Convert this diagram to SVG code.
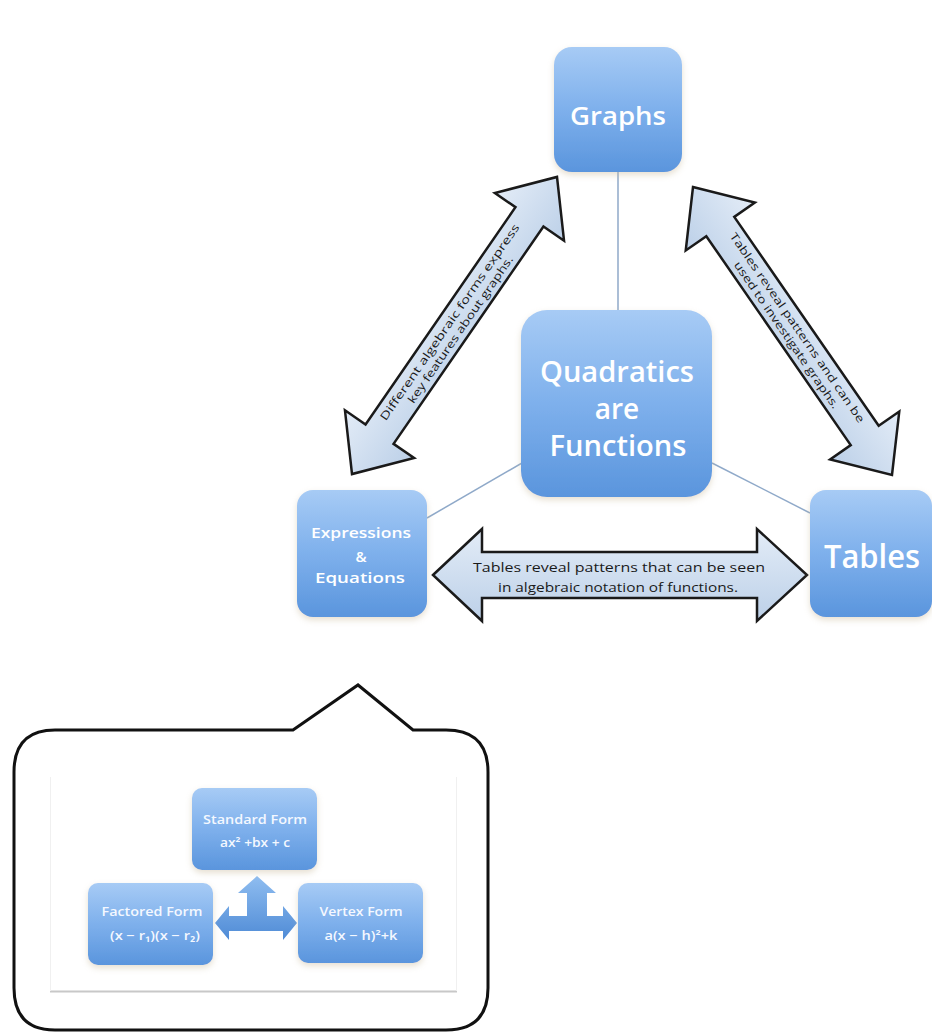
<svg xmlns="http://www.w3.org/2000/svg" width="932" height="1036" viewBox="0 0 932 1036">
<defs>
<linearGradient id="nodeGrad" x1="0" y1="0" x2="0" y2="1">
<stop offset="0" stop-color="#a7cbf5"/>
<stop offset="0.5" stop-color="#7eb0ec"/>
<stop offset="1" stop-color="#5a95dd"/>
</linearGradient>
<linearGradient id="arrowGrad" x1="0" y1="0" x2="0" y2="1">
<stop offset="0" stop-color="#e3ecf7"/>
<stop offset="1" stop-color="#bcd0e8"/>
</linearGradient>
<linearGradient id="smallArrowGrad" x1="0" y1="0" x2="0" y2="1">
<stop offset="0" stop-color="#8fbdf0"/>
<stop offset="1" stop-color="#4f8bd6"/>
</linearGradient>
<filter id="shadow" x="-20%" y="-20%" width="140%" height="140%">
<feDropShadow dx="0" dy="3" stdDeviation="3" flood-color="#c9b99a" flood-opacity="0.45"/>
</filter>
</defs>
<style>
.node{fill:url(#nodeGrad);filter:url(#shadow)}
.big{font-family:"Open Sans","Noto Sans","Liberation Sans",sans-serif;font-weight:600;fill:#ffffff;text-anchor:middle}
.mid{font-family:"Open Sans","Noto Sans","Liberation Sans",sans-serif;font-weight:600;fill:#ffffff;text-anchor:middle;font-size:15px}
.small{font-family:"Open Sans","Noto Sans","Liberation Sans",sans-serif;font-weight:600;fill:#f4f8ff;text-anchor:middle;font-size:12px}
.conn{stroke:#8fa9c9;stroke-width:1.5;fill:none}
.bigArrow{fill:url(#arrowGrad);stroke:#1a1a1a;stroke-width:2.5;stroke-linejoin:miter}
.lab{font-family:"Open Sans","Noto Sans","Liberation Sans",sans-serif;fill:#1a1a1a;text-anchor:middle;font-size:11px}
.labh{font-family:"Open Sans","Noto Sans","Liberation Sans",sans-serif;fill:#1a1a1a;text-anchor:middle;font-size:12px}
</style>
<rect width="932" height="1036" fill="#ffffff"/>

<g id="connectors">
<line class="conn" x1="618" y1="172" x2="618" y2="310"/>
<line class="conn" x1="522" y1="463" x2="427" y2="518"/>
<line class="conn" x1="712" y1="463" x2="810" y2="513"/>
</g>

<g id="arrow-expr-graphs">
<g transform="translate(454.5,325.5) rotate(-55.4)">
<path class="bigArrow" d="M-180.5,0 L-132,-42 L-132,-17 L132,-17 L132,-42 L180.5,0 L132,42 L132,17 L-132,17 L-132,42 Z"/>
<text class="lab" x="0" y="-2" textLength="236" lengthAdjust="spacingAndGlyphs">Different algebraic forms express</text>
<text class="lab" x="0" y="11" textLength="176" lengthAdjust="spacingAndGlyphs">key features about graphs.</text>
</g>
</g>

<g id="arrow-tables-graphs">
<g transform="translate(792.5,331) rotate(55.35)">
<path class="bigArrow" d="M-175,0 L-127,-42 L-127,-17 L127,-17 L127,-42 L175,0 L127,42 L127,17 L-127,17 L-127,42 Z"/>
<text class="lab" x="0" y="-2" textLength="228" lengthAdjust="spacingAndGlyphs">Tables reveal patterns and can be</text>
<text class="lab" x="0" y="11" textLength="176" lengthAdjust="spacingAndGlyphs">used to investigate graphs.</text>
</g>
</g>

<g id="arrow-expr-tables">
<path class="bigArrow" d="M433,575 L482,529 L482,552 L757,552 L757,529 L807,575 L757,621 L757,598 L482,598 L482,621 Z"/>
<text class="labh" x="619" y="572" textLength="292" lengthAdjust="spacingAndGlyphs">Tables reveal  patterns that can be seen</text>
<text class="labh" x="618" y="592" textLength="240" lengthAdjust="spacingAndGlyphs">in algebraic notation of functions.</text>
</g>

<g id="node-graphs">
<rect class="node" x="554" y="47" width="128" height="125" rx="18"/>
<text class="big" x="618" y="125" font-size="25" font-weight="bold" textLength="96" lengthAdjust="spacingAndGlyphs">Graphs</text>
</g>

<g id="node-quadratics">
<rect class="node" x="521" y="310" width="191" height="187" rx="26"/>
<text class="big" x="617" y="382" font-size="28" textLength="154" lengthAdjust="spacingAndGlyphs">Quadratics</text>
<text class="big" x="617" y="419" font-size="28">are</text>
<text class="big" x="618" y="456" font-size="28" textLength="137" lengthAdjust="spacingAndGlyphs">Functions</text>
</g>

<g id="node-expressions">
<rect class="node" x="297" y="490" width="130" height="127" rx="16"/>
<text class="mid" x="361" y="538" textLength="100" lengthAdjust="spacingAndGlyphs">Expressions</text>
<text class="mid" x="361" y="562">&amp;</text>
<text class="mid" x="360" y="583" textLength="90" lengthAdjust="spacingAndGlyphs">Equations</text>
</g>

<g id="node-tables">
<rect class="node" x="810" y="490" width="122" height="127" rx="16"/>
<text class="big" x="872" y="568" font-size="32" textLength="96" lengthAdjust="spacingAndGlyphs">Tables</text>
</g>

<g id="callout">
<path d="M55,730 L293,730 L358,685 L413,730 L446,730 Q488,730 488,772 L488,988 Q488,1030 446,1030 L55,1030 Q14,1030 14,988 L14,772 Q14,730 55,730 Z" fill="#ffffff" stroke="#111111" stroke-width="3" stroke-linejoin="miter"/>
<rect x="50" y="777" width="407" height="214" fill="#ffffff"/>
<line x1="50" y1="991.5" x2="457" y2="991.5" stroke="#c8c8c8" stroke-width="2"/>
<line x1="50.5" y1="777" x2="50.5" y2="991" stroke="#f0f0f0" stroke-width="1"/>
<line x1="456.5" y1="777" x2="456.5" y2="991" stroke="#f0f0f0" stroke-width="1"/>
</g>

<g id="small-arrows">
<path d="M215,923 L229,906 L229,916 L247,916 L247,893 L238,893 L257,876 L276,893 L267,893 L267,916 L283,916 L283,906 L297,923 L283,940 L283,931 L229,931 L229,940 Z" fill="url(#smallArrowGrad)"/>
</g>

<g id="node-standard">
<rect class="node" x="192" y="788" width="125" height="82" rx="10"/>
<text class="small" x="255" y="824" textLength="104" lengthAdjust="spacingAndGlyphs">Standard Form</text>
<text class="small" x="255" y="847" textLength="70" lengthAdjust="spacingAndGlyphs">ax² +bx + c</text>
</g>

<g id="node-factored">
<rect class="node" x="88" y="883" width="125" height="82" rx="10"/>
<text class="small" x="152" y="916" textLength="101" lengthAdjust="spacingAndGlyphs">Factored Form</text>
<text class="small" x="155" y="940" textLength="90" lengthAdjust="spacingAndGlyphs">(x − r₁)(x − r₂)</text>
</g>

<g id="node-vertex">
<rect class="node" x="298" y="883" width="125" height="80" rx="10"/>
<text class="small" x="361" y="916" textLength="83" lengthAdjust="spacingAndGlyphs">Vertex Form</text>
<text class="small" x="361" y="940" textLength="73" lengthAdjust="spacingAndGlyphs">a(x − h)²+k</text>
</g>
</svg>
